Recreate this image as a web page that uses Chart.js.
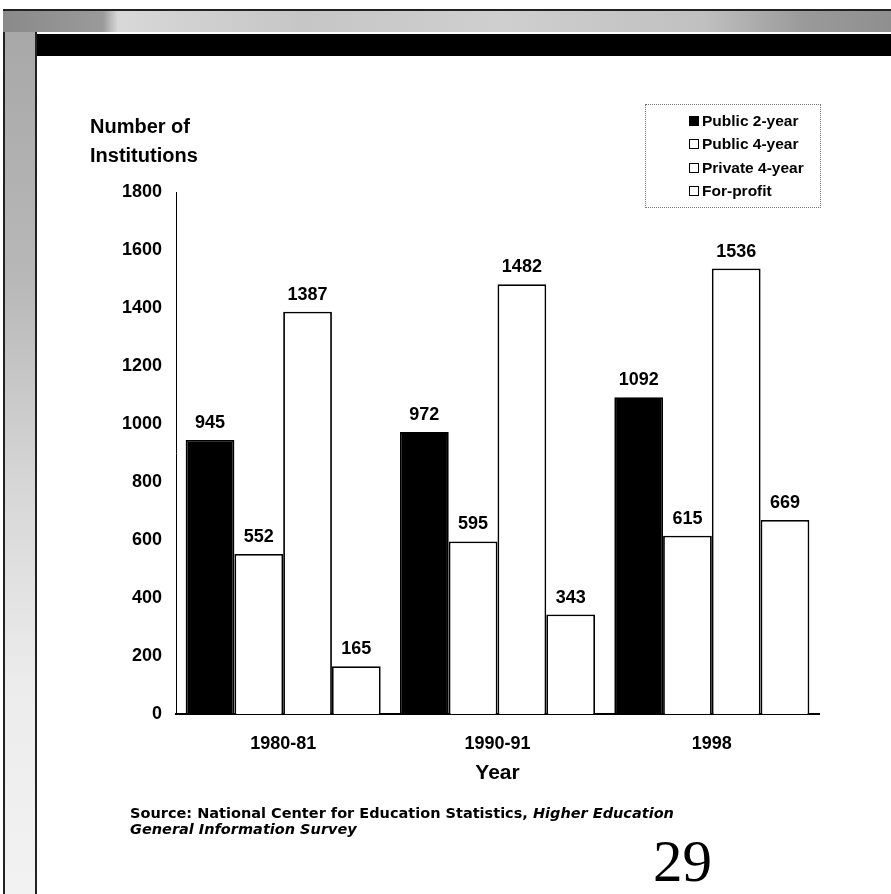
<!DOCTYPE html>
<html>
<head>
<meta charset="utf-8">
<script src="https://cdn.jsdelivr.net/npm/chart.js@4.4.1/dist/chart.umd.min.js"></script>
<style>
  html, body { margin: 0; padding: 0; background: #fff; }
  body { width: 891px; height: 894px; position: relative; overflow: hidden; font-family: "Liberation Sans", Arial, sans-serif; }
  #c { position: absolute; left: 0; top: 0; }
  .topline { position: absolute; left: 3px; top: 9px; width: 888px; height: 2px; background: #222; }
  .topband { position: absolute; left: 3px; top: 11px; width: 888px; height: 21px;
    background: linear-gradient(90deg, #8a8a8a 0px, #9a9a9a 100px, #d8d8d8 115px, #c6c6c6 300px, #cfcfcf 500px, #c0c0c0 700px, #9a9a9a 800px, #8f8f8f 888px); }
  .leftstrip { position: absolute; left: 3px; top: 32px; width: 30px; height: 862px;
    border-left: 2px solid #222; border-right: 2px solid #222;
    background: linear-gradient(180deg, #a8a8a8 0px, #b8b8b8 250px, #d6d6d6 450px, #ececec 650px, #f2f2f2 862px); }
  .blackband { position: absolute; left: 37px; top: 34px; width: 854px; height: 22px; background: #000; }
  .ytitle { position: absolute; left: 90px; top: 112px; font-weight: bold; font-size: 20px; line-height: 29px; color: #000; }
  .legend { position: absolute; left: 645px; top: 104px; width: 174px; height: 102px; border: 1px dotted #777; }
  .legend .items { position: absolute; left: 43px; top: 4px; }
  .legend .row { height: 23.3px; line-height: 23.3px; font-weight: bold; font-size: 15.5px; color: #000; white-space: nowrap; }
  .legend .mk { display: inline-block; width: 8px; height: 8px; border: 1px solid #000; margin-right: 3px; vertical-align: 0px; }
  .source { position: absolute; left: 130px; top: 805px; font-family: "DejaVu Sans", sans-serif; font-weight: bold; font-size: 14.5px; line-height: 16px; color: #000; }
  .pagenum { position: absolute; left: 653px; top: 832px; font-family: "Liberation Serif", "Times New Roman", serif; font-size: 59px; line-height: 1; color: #000; }
</style>
</head>
<body>
<div class="topline"></div>
<div class="topband"></div>
<div class="leftstrip"></div>
<div class="blackband"></div>
<canvas id="c" width="891" height="894"></canvas>
<div class="ytitle">Number of<br>Institutions</div>
<div class="legend"><div class="items" id="legendItems"></div></div>
<div class="source">Source: National Center for Education Statistics, <i>Higher Education</i><br><i>General Information Survey</i></div>
<div class="pagenum">29</div>
<script>
// ---- data ----
const categories = ["1980-81", "1990-91", "1998"];
const seriesNames = ["Public 2-year", "Public 4-year", "Private 4-year", "For-profit"];
const public2Year = [945, 972, 1092];
const public4Year = [552, 595, 615];
const private4Year = [1387, 1482, 1536];
const forProfit = [165, 343, 669];
const yTicks = [0, 200, 400, 600, 800, 1000, 1200, 1400, 1600, 1800];
const seriesFill = ["#000000", "#ffffff", "#ffffff", "#ffffff"];

// legend built from series names
const legendEl = document.getElementById('legendItems');
seriesNames.forEach((name, i) => {
  const row = document.createElement('div');
  row.className = 'row';
  const mk = document.createElement('span');
  mk.className = 'mk';
  mk.style.background = seriesFill[i];
  row.appendChild(mk);
  row.appendChild(document.createTextNode(name));
  legendEl.appendChild(row);
});

const valueLabels = {
  id: 'valueLabels',
  afterDatasetsDraw(chart) {
    const ctx = chart.ctx;
    ctx.save();
    ctx.font = 'bold 18px "Liberation Sans", Arial, sans-serif';
    ctx.fillStyle = '#000';
    ctx.textAlign = 'center';
    ctx.textBaseline = 'alphabetic';
    chart.data.datasets.forEach((ds, di) => {
      const meta = chart.getDatasetMeta(di);
      meta.data.forEach((bar, i) => {
        ctx.fillText(String(ds.data[i]), bar.x, bar.y - 12);
      });
    });
    ctx.restore();
  }
};

const allSeries = [public2Year, public4Year, private4Year, forProfit];
new Chart(document.getElementById('c'), {
  type: 'bar',
  data: {
    labels: categories,
    datasets: allSeries.map((d, i) => ({
      label: seriesNames[i],
      data: d,
      backgroundColor: seriesFill[i],
      borderColor: '#000',
      borderWidth: 1.8,
      barPercentage: 1.0,
      categoryPercentage: 0.91
    }))
  },
  options: {
    responsive: false,
    animation: false,
    devicePixelRatio: 1,
    layout: { padding: { left: 116, right: 72, top: 192, bottom: 100 } },
    plugins: { legend: { display: false }, tooltip: { enabled: false } },
    scales: {
      x: {
        grid: { display: false, drawTicks: false },
        border: { display: true, color: '#000', width: 2 },
        ticks: { color: '#000', padding: 19, font: { family: '"Liberation Sans", Arial, sans-serif', weight: 'bold', size: 18 } },
        title: { display: true, text: 'Year', color: '#000', padding: { top: 4, bottom: 8 },
                 font: { family: '"Liberation Sans", Arial, sans-serif', weight: 'bold', size: 21 } },
        afterFit(scale) { scale.height = 80; }
      },
      y: {
        min: 0, max: 1800,
        grid: { display: false, drawTicks: false },
        border: { display: true, color: '#000', width: 1, dash: [2, 3] },
        afterBuildTicks(scale) { scale.ticks = yTicks.map(v => ({ value: v })); },
        ticks: { color: '#000', padding: 14, callback: (v) => String(v),
                 font: { family: '"Liberation Sans", Arial, sans-serif', weight: 'bold', size: 18 } },
        afterFit(scale) { scale.width = 60; }
      }
    }
  },
  plugins: [valueLabels]
});
</script>
</body>
</html>
